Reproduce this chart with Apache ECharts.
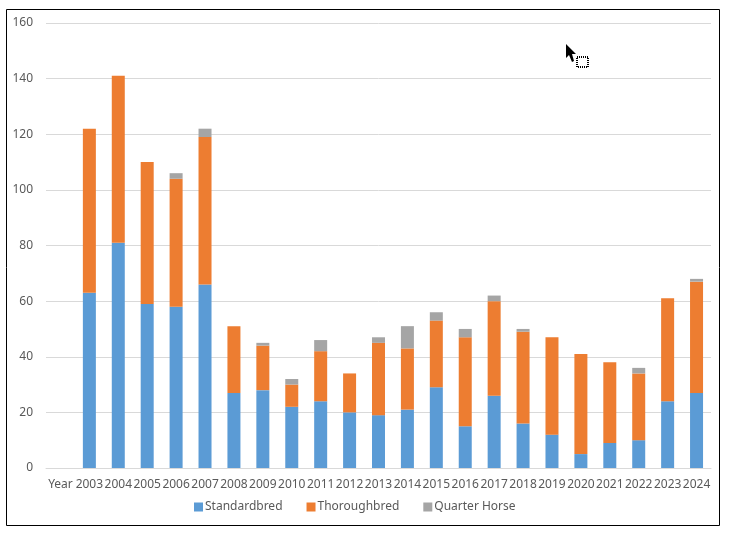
<!DOCTYPE html>
<html><head><meta charset="utf-8">
<style>html,body{margin:0;padding:0;background:#fff}#c{width:730px;height:537px}</style>
<script src="https://cdn.jsdelivr.net/npm/echarts@6/dist/echarts.min.js"></script></head>
<body><div id="c"></div>
<script>
const categories=['Year','2003','2004','2005','2006','2007','2008','2009','2010','2011','2012','2013','2014','2015','2016','2017','2018','2019','2020','2021','2022','2023','2024'];
const standardbred=[null,63,81,59,58,66,27,28,22,24,20,19,21,29,15,26,16,12,5,9,10,24,27];
const thoroughbred=[null,59,60,51,46,53,24,16,8,18,14,26,22,24,32,34,33,35,36,29,24,37,40];
const quarterHorse=[null,0,0,0,2,3,0,1,2,4,0,2,8,3,3,2,1,0,0,0,2,0,1];
const font='"Noto Sans"';
const mk=(name,data,color)=>({name,type:'bar',stack:'t',data,barWidth:13,itemStyle:{color,borderColor:color,borderWidth:0}});
const chart=echarts.init(document.getElementById('c'),null,{renderer:'canvas'});
chart.setOption({
 animation:false,
 backgroundColor:'#fff',
 textStyle:{fontFamily:font},
 grid:{left:46,right:19,top:23,bottom:69,containLabel:false},
 xAxis:{type:'category',data:categories,axisTick:{show:false},
  axisLine:{lineStyle:{color:'#d9d9d9',width:1}},
  axisLabel:{interval:0,color:'#595959',fontSize:12,fontFamily:font,margin:11,hideOverlap:false}},
 yAxis:{type:'value',min:0,max:160,interval:20,axisLine:{show:false},axisTick:{show:false},
  splitLine:{lineStyle:{color:'#d9d9d9',width:1}},
  axisLabel:{color:'#595959',fontSize:12,fontFamily:font,margin:13}},
 legend:{left:189,top:496,itemWidth:9,itemHeight:9,itemGap:24,icon:'rect',
  textStyle:{color:'#595959',fontSize:12,fontFamily:font,padding:[0,0,0,-3]},
  data:['Standardbred','Thoroughbred','Quarter Horse']},
 series:[mk('Standardbred',standardbred,'#5b9bd5'),mk('Thoroughbred',thoroughbred,'#ed7d31'),mk('Quarter Horse',quarterHorse,'#a5a5a5')],
 graphic:[
  {type:'rect',silent:true,z:100,shape:{x:6.5,y:9.5,width:713,height:516},style:{fill:'none',stroke:'#000',lineWidth:1}},
  {type:'polygon',silent:true,z:100,shape:{points:[[566,44],[566,58],[569,55],[572,62],[574,61],[572,54],[576,54]]},style:{fill:'#000'}},
  {type:'rect',silent:true,z:100,shape:{x:577,y:57,width:11,height:10},style:{fill:'none',stroke:'#000',lineWidth:2,lineDash:[1,1]}}
 ]
});
</script></body></html>
